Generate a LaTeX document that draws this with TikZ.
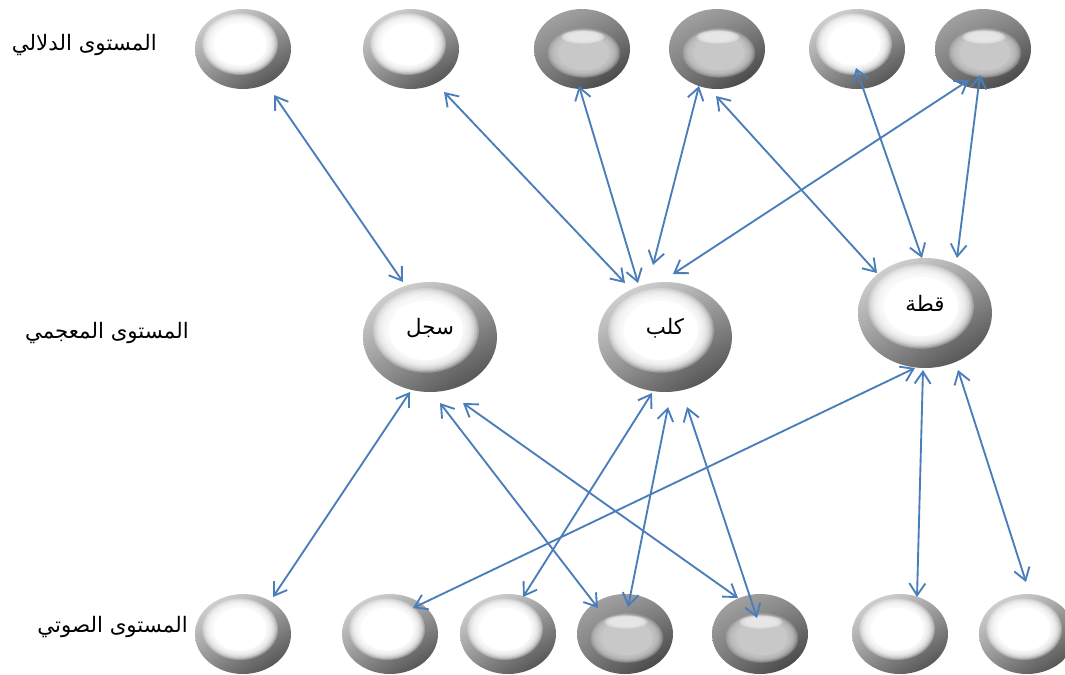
\documentclass[tikz,border=0pt]{standalone}
\usepackage{fontspec}
\usetikzlibrary{shapes.geometric,arrows.meta,calc,shadings}
\TeXXeTstate=1
\newfontfamily\arabicfont[Script=Arabic]{DejaVu Sans}

\definecolor{linkblue}{HTML}{4A7EBB}
% rim colours of the light and dark balls
\definecolor{liteUL}{HTML}{E2E2E2}
\definecolor{liteUR}{HTML}{A8A8A8}
\definecolor{liteLL}{HTML}{8C8C8C}
\definecolor{liteLR}{HTML}{3E3E3E}
\definecolor{darkUL}{HTML}{ACACAC}
\definecolor{darkUR}{HTML}{8C8C8C}
\definecolor{darkLL}{HTML}{787878}
\definecolor{darkLR}{HTML}{363636}
\definecolor{darkcore}{HTML}{C8C8C8}
\definecolor{darkshine}{HTML}{E6E6E6}

\tikzset{
  ball/.style={ellipse, inner sep=0pt},
  linkarrow/.style={draw=linkblue, line width=1.4pt,
    {Straight Barb[length=9pt,width=12pt]}-{Straight Barb[length=9pt,width=12pt]}},
  lvl/.style={anchor=east, inner sep=0pt, font=\arabicfont\fontsize{16pt}{18pt}\selectfont},
  word/.style={inner sep=0pt, font=\arabicfont\fontsize{16pt}{18pt}\selectfont}
}

% #1 name, #2 x, #3 y, #4 half width, #5 half height
\newcommand\ballnode[5]{%
  \node[ball, minimum width={1.5pt*#4}, minimum height={1.5pt*#5}] (#1) at (#2,#3) {};}

% a patch of colour #4 with a soft edge: centre #1, radii #2 and #3
\newcommand\softblob[4]{%
  \foreach \k in {0,...,9}{%
    \fill[#4, opacity=0.25] #1 ellipse [x radius={#2*(1-0.03*\k)}, y radius={#3*(1-0.03*\k)}];}
  \fill[#4] #1 ellipse [x radius={0.7*#2}, y radius={0.7*#3}];
}

% light ball: grey bevel with a white centre
\newcommand\paintlite[3]{%
  \shade[upper left=liteUL, upper right=liteUR, lower left=liteLL, lower right=liteLR]
    (#1.center) ellipse [x radius=#2, y radius=#3];
  \softblob{($(#1.center)+(-0.06*#2,-0.12*#3)$)}{0.79*#2}{0.77*#3}{white}
}

% dark ball: darker bevel, pale grey centre with a highlight on top
\newcommand\paintdark[3]{%
  \shade[upper left=darkUL, upper right=darkUR, lower left=darkLL, lower right=darkLR]
    (#1.center) ellipse [x radius=#2, y radius=#3];
  \softblob{($(#1.center)+(0.04*#2,0.1*#3)$)}{0.76*#2}{0.62*#3}{darkcore}
  \softblob{($(#1.center)+(0.02*#2,-0.3*#3)$)}{0.46*#2}{0.17*#3}{darkshine}
}

\newcommand\link[4]{\draw[linkarrow] ($(#1.center)+(#2)$) -- ($(#3.center)+(#4)$);}

\begin{document}
\begin{tikzpicture}[x=0.75pt, y=-0.75pt]
\useasboundingbox (0,0) rectangle (1065,675);

% semantic level
\ballnode{t1}{243}{49}{48}{40}
\ballnode{t2}{411}{49}{48}{40}
\ballnode{t3}{582}{49}{48}{40}
\ballnode{t4}{717}{49}{48}{40}
\ballnode{t5}{857}{49}{48}{40}
\ballnode{t6}{983}{49}{48}{40}
% lexical level
\ballnode{m1}{430}{337}{67}{55}
\ballnode{m2}{665}{337}{67}{55}
\ballnode{m3}{925}{313}{67}{55}
% phonetic level
\ballnode{b1}{243}{634}{48}{40}
\ballnode{b2}{390}{634}{48}{40}
\ballnode{b3}{508}{634}{48}{40}
\ballnode{b4}{625}{634}{48}{40}
\ballnode{b5}{760}{634}{48}{40}
\ballnode{b6}{900}{634}{48}{40}
\ballnode{b7}{1027}{634}{48}{40}

\paintlite{t1}{48}{40}
\paintlite{t2}{48}{40}
\paintdark{t3}{48}{40}
\paintdark{t4}{48}{40}
\paintlite{t5}{48}{40}
\paintdark{t6}{48}{40}

\paintlite{m1}{67}{55}
\paintlite{m2}{67}{55}
\paintlite{m3}{67}{55}

\paintlite{b1}{48}{40}
\paintlite{b2}{48}{40}
\paintlite{b3}{48}{40}
\paintdark{b4}{48}{40}
\paintdark{b5}{48}{40}
\paintlite{b6}{48}{40}
\paintlite{b7}{48}{40}

% words
\node[word] (w1) at ($(m1.center)+(0,-9)$) {\beginR سجل\endR};
\node[word] (w2) at ($(m2.center)+(0,-9)$) {\beginR كلب\endR};
\node[word] (w3) at ($(m3.center)+(0,-10)$) {\beginR قطة\endR};

% level names
\node[lvl] (lsem) at (157,45) {\beginR المستوى الدلالي\endR};
\node[lvl] (llex) at (189,333) {\beginR المستوى المعجمي\endR};
\node[lvl] (lpho) at (188,627) {\beginR المستوى الصوتي\endR};

% semantic <-> lexical
\link{t1}{31,46}{m1}{-27,-55}
\link{t2}{33,43}{m2}{-40,-54}
\link{t3}{-3,37}{m2}{-27,-54}
\link{t4}{-18,37}{m2}{-12,-72}
\link{t4}{-1,47}{m3}{-48,-40}
\link{t5}{-1,19}{m3}{-3,-55}
\link{t6}{-14,31}{m2}{8,-63}
\link{t6}{-3,26}{m3}{32,-55}

% lexical <-> phonetic
\link{m1}{-20,55}{b1}{30,-37}
\link{m1}{10,66}{b4}{-27,-26}
\link{m1}{33,66}{b5}{-22,-36}
\link{m2}{-13,56}{b3}{15,-37}
\link{m2}{3,70}{b4}{3,-27}
\link{m2}{22,70}{b5}{-3,-16}
\link{m3}{-10,55}{b2}{23,-26}
\link{m3}{-2,57}{b6}{17,-37}
\link{m3}{33,57}{b7}{-1,-52}
\end{tikzpicture}
\end{document}
